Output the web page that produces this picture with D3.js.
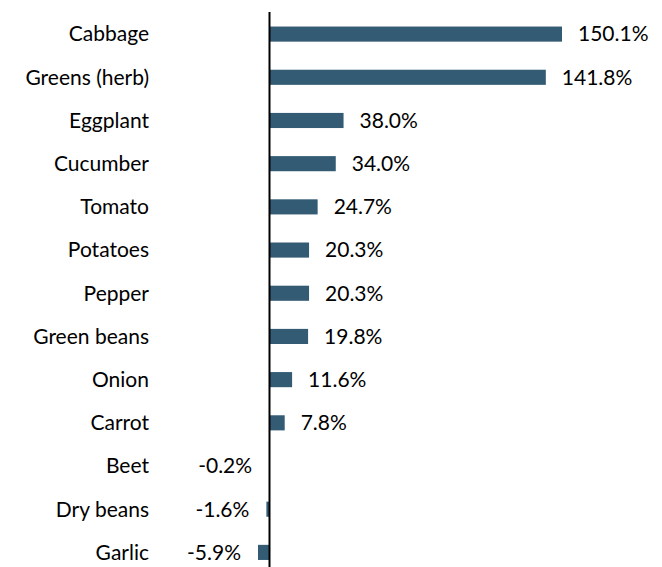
<!DOCTYPE html>
<html>
<head>
<meta charset="utf-8">
<script src="https://cdn.jsdelivr.net/npm/d3@7"></script>
<style>
  html, body { margin: 0; padding: 0; background: #fff; }
  svg { display: block; }
</style>
</head>
<body>
<div id="chart"></div>
<script>
// Year-over-year price change by vegetable, percent
const categories = ["Cabbage", "Greens (herb)", "Eggplant", "Cucumber", "Tomato", "Potatoes",
  "Pepper", "Green beans", "Onion", "Carrot", "Beet", "Dry beans", "Garlic"];
const values = [150.1, 141.8, 38.0, 34.0, 24.7, 20.3, 20.3, 19.8, 11.6, 7.8, -0.2, -1.6, -5.9];
const valueLabels = ["150.1%", "141.8%", "38.0%", "34.0%", "24.7%", "20.3%", "20.3%",
  "19.8%", "11.6%", "7.8%", "-0.2%", "-1.6%", "-5.9%"];

const width = 662, height = 567;
const font = "Lato, 'Open Sans', sans-serif";
const fontSize = 21;
const barColor = "#345b74";

const svg = d3.select("#chart").append("svg")
  .attr("width", width).attr("height", height);

const x = d3.scaleLinear().domain([0, 150.1]).range([269.5, 562]);
const y = d3.scaleBand().domain(categories).range([12.5, 574]).paddingInner(0.65).paddingOuter(0.325);

// bars
svg.append("g").selectAll("rect")
  .data(categories)
  .join("rect")
  .attr("x", (d, i) => Math.min(x(0), x(values[i])))
  .attr("y", d => y(d))
  .attr("width", (d, i) => Math.abs(x(values[i]) - x(0)))
  .attr("height", y.bandwidth())
  .attr("fill", barColor);

// zero axis line
svg.append("line")
  .attr("x1", x(0)).attr("x2", x(0))
  .attr("y1", 12).attr("y2", height)
  .attr("stroke", "#000").attr("stroke-width", 2);

// category labels
svg.append("g").selectAll("text")
  .data(categories)
  .join("text")
  .attr("x", 149)
  .attr("y", d => y(d) + y.bandwidth() / 2)
  .attr("dy", "0.35em")
  .attr("text-anchor", "end")
  .attr("font-family", font)
  .attr("font-size", fontSize)
  .attr("fill", "#000")
  .text(d => d);

// value labels
svg.append("g").selectAll("text")
  .data(categories)
  .join("text")
  .attr("x", (d, i) => values[i] >= 0 ? x(values[i]) + 16 : x(values[i]) - 17)
  .attr("y", d => y(d) + y.bandwidth() / 2)
  .attr("dy", "0.35em")
  .attr("text-anchor", (d, i) => values[i] >= 0 ? "start" : "end")
  .attr("font-family", font)
  .attr("font-size", fontSize)
  .attr("fill", "#000")
  .text((d, i) => valueLabels[i]);
</script>
</body>
</html>
